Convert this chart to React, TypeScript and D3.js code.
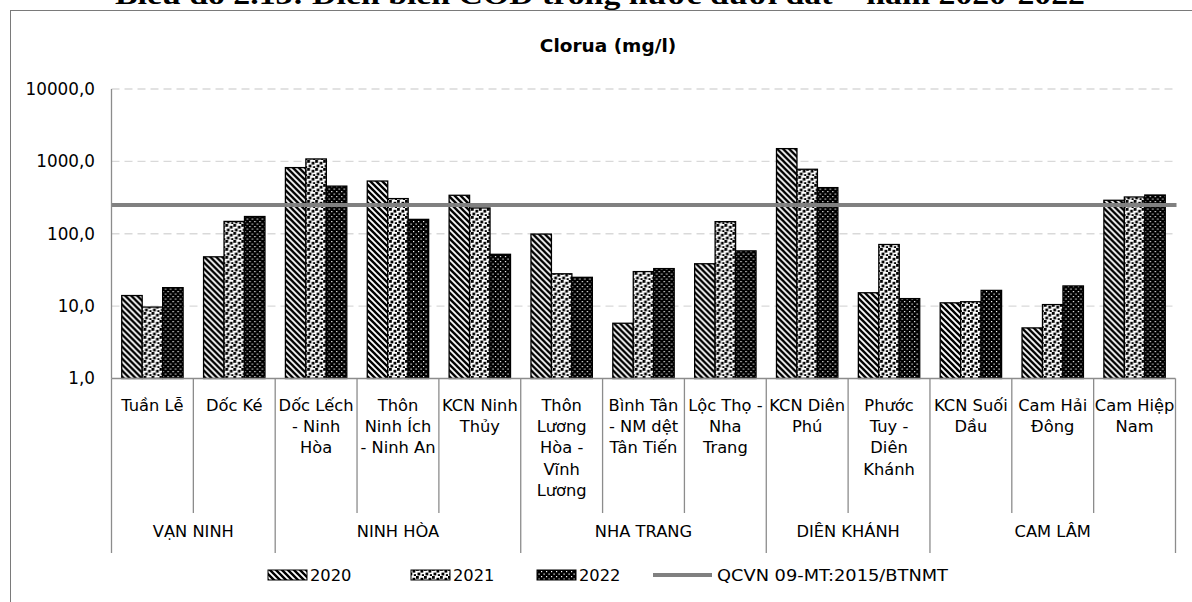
import React from "react";
import * as d3 from "d3";

const categories = [
  "Tuần Lễ", "Dốc Ké", "Dốc Lếch - Ninh Hòa", "Thôn Ninh Ích - Ninh An", "KCN Ninh Thủy",
  "Thôn Lương Hòa - Vĩnh Lương", "Bình Tân - NM dệt Tân Tiến", "Lộc Thọ - Nha Trang",
  "KCN Diên Phú", "Phước Tuy - Diên Khánh", "KCN Suối Dầu", "Cam Hải Đông", "Cam Hiệp Nam",
];
const categoryLines = [
  ["Tuần Lễ"], ["Dốc Ké"], ["Dốc Lếch", "- Ninh", "Hòa"], ["Thôn", "Ninh Ích", "- Ninh An"],
  ["KCN Ninh", "Thủy"], ["Thôn", "Lương", "Hòa -", "Vĩnh", "Lương"], ["Bình Tân", "- NM dệt", "Tân Tiến"],
  ["Lộc Thọ -", "Nha", "Trang"], ["KCN Diên", "Phú"], ["Phước", "Tuy -", "Diên", "Khánh"],
  ["KCN Suối", "Dầu"], ["Cam Hải", "Đông"], ["Cam Hiệp", "Nam"],
];
const groups = ["VẠN NINH", "NINH HÒA", "NHA TRANG", "DIÊN KHÁNH", "CAM LÂM"];
const groupSizes = [2, 3, 3, 2, 3];
const seriesNames = ["2020", "2021", "2022"];
const values2020 = [14, 48, 820, 535, 340, 99, 5.8, 38.5, 1500, 15.3, 11.1, 5.0, 290];
const values2021 = [9.7, 148, 1080, 306, 227, 28, 30, 147, 778, 71, 11.5, 10.5, 322];
const values2022 = [18, 173, 455, 158, 52, 25, 33, 58, 434, 12.7, 16.5, 19, 343];
const limitValue = 250;
const limitName = "QCVN 09-MT:2015/BTNMT";
const yTicks = [1, 10, 100, 1000, 10000];
const yTickLabels = ["1,0", "10,0", "100,0", "1000,0", "10000,0"];
const chartTitle = "Clorua (mg/l)";
const pageTitle = "Biểu đồ 2.13: Diễn biến COD trong nước dưới đất – năm 2020-2022";

const FONT = "'DejaVu Sans', sans-serif";

export default function App() {
  const W = 1192, H = 602;
  const left = 111.5, right = 1175.5, top = 89, bottom = 378.5;
  const x = d3.scaleBand<string>().domain(categories).range([left, right]).paddingInner(0).paddingOuter(0);
  const y = d3.scaleLog().domain([1, 10000]).range([bottom, top]);
  const bw = x.bandwidth();
  const sub = d3.scaleBand<string>().domain(seriesNames).range([bw / 8, bw - bw / 8]).padding(0);
  const allSeries = [values2020, values2021, values2022];
  const fills = ["url(#p2020)", "url(#p2021)", "url(#p2022)"];

  const bounds: number[] = [left];
  let acc = 0;
  groupSizes.forEach((s) => { acc += s; bounds.push(left + acc * bw); });

  const lineH = 21.3;
  const firstLineY = 405;
  const catSepBottom = 513;
  const grpSepBottom = 553;
  const fs = 16.3;
  const legendY = 575;

  return (
    <svg width={W} height={H} style={{ position: "absolute", left: 0, top: 0, background: "#fff" }}
      fontFamily={FONT}>
      <defs>
        <pattern id="p2020" patternUnits="userSpaceOnUse" width="6" height="6">
          <rect width="6" height="6" fill="#fff" />
          <path d="M-1,-1 L7,7 M-4,2 L2,8 M2,-4 L8,2" stroke="#000" strokeWidth="2.4" />
        </pattern>
        <pattern id="p2021" patternUnits="userSpaceOnUse" width="8" height="8">
          <rect width="8" height="8" fill="#fff" />
          <rect x="0" y="0" width="2.8" height="2.8" fill="#000" />
          <rect x="4.5" y="1.8" width="2.8" height="2.8" fill="#000" />
          <rect x="1.5" y="4.6" width="2.8" height="2.8" fill="#000" />
          <rect x="5.8" y="6.2" width="2.2" height="1.8" fill="#000" />
        </pattern>
        <pattern id="p2022" patternUnits="userSpaceOnUse" width="5" height="5">
          <rect width="5" height="5" fill="#000" />
          <rect x="1" y="1" width="1.2" height="1.2" fill="#fff" />
          <rect x="3.5" y="3.5" width="1.2" height="1.2" fill="#fff" />
        </pattern>
      </defs>

      <text x={600} y={4} textAnchor="middle" fontFamily="'Liberation Serif', 'Times New Roman', serif"
        fontWeight="bold" fontSize={27} textLength={970} lengthAdjust="spacingAndGlyphs">{pageTitle}</text>

      <rect x={10.5} y={10.5} width={1200} height={620} fill="#fff" stroke="#7a7a7a" strokeWidth={1} />

      <text x={608} y={52} textAnchor="middle" fontWeight="bold" fontSize={18.5}>{chartTitle}</text>

      {yTicks.slice(1).map((t) => (
        <line key={t} x1={left} x2={right} y1={y(t)} y2={y(t)} stroke="#d9d9d9" strokeWidth={1.3}
          strokeDasharray="8,5" />
      ))}
      {yTicks.map((t, i) => (
        <text key={"yl" + t} x={95} y={y(t)} dy="0.35em" textAnchor="end" fontSize={16.8}>{yTickLabels[i]}</text>
      ))}

      {categories.map((c, ci) => (
        <g key={c} transform={`translate(${x(c)},0)`}>
          {allSeries.map((vals, si) => (
            <rect key={si} x={sub(seriesNames[si])} width={sub.bandwidth()} y={y(vals[ci])}
              height={bottom - y(vals[ci])} fill={fills[si]} stroke="#000" strokeWidth={1.3} />
          ))}
        </g>
      ))}

      <line x1={left} x2={right + 1} y1={y(limitValue)} y2={y(limitValue)} stroke="#808080" strokeWidth={4} />

      <line x1={left} x2={left} y1={top} y2={bottom} stroke="#8c8c8c" strokeWidth={1.3} />
      <line x1={left} x2={right} y1={bottom} y2={bottom} stroke="#8c8c8c" strokeWidth={1.3} />

      {d3.range(categories.length + 1).map((i) => {
        const xx = left + i * bw;
        const isGroup = bounds.some((b) => Math.abs(b - xx) < 0.5);
        return (
          <line key={"s" + i} x1={xx} x2={xx} y1={bottom} y2={isGroup ? grpSepBottom : catSepBottom}
            stroke="#8c8c8c" strokeWidth={1.3} />
        );
      })}

      {categories.map((c, ci) => (
        <text key={"cl" + c} x={(x(c) as number) + bw / 2} textAnchor="middle" fontSize={fs}>
          {categoryLines[ci].map((ln, li) => (
            <tspan key={li} x={(x(c) as number) + bw / 2} y={firstLineY + li * lineH} dy="0.35em">{ln}</tspan>
          ))}
        </text>
      ))}

      {groups.map((g, gi) => (
        <text key={g} x={(bounds[gi] + bounds[gi + 1]) / 2} y={531} dy="0.35em" textAnchor="middle" fontSize={fs}>{g}</text>
      ))}

      {[
        { x: 268, fill: fills[0], label: seriesNames[0] },
        { x: 411, fill: fills[1], label: seriesNames[1] },
        { x: 537, fill: fills[2], label: seriesNames[2] },
      ].map((it) => (
        <g key={it.label}>
          <rect x={it.x} y={legendY - 5} width={39} height={10} fill={it.fill} stroke="#000" strokeWidth={1} />
          <text x={it.x + 42} y={legendY} dy="0.35em" fontSize={fs}>{it.label}</text>
        </g>
      ))}
      <line x1={653} x2={712} y1={legendY} y2={legendY} stroke="#808080" strokeWidth={4} />
      <text x={717} y={legendY} dy="0.35em" fontSize={fs} textLength={231} lengthAdjust="spacingAndGlyphs">{limitName}</text>
    </svg>
  );
}
